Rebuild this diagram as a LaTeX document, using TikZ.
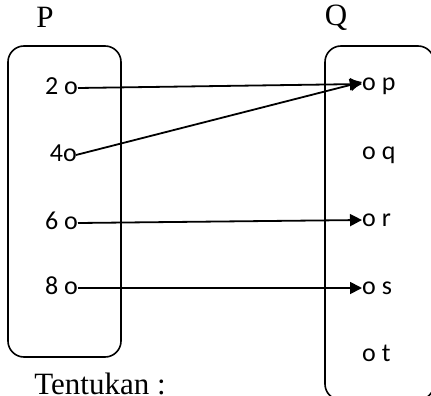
\documentclass[tikz,border=0pt]{standalone}
\usepackage{fontspec}
\setmainfont{Liberation Serif}
\newfontfamily\itemfont{Carlito}
\usetikzlibrary{arrows.meta}
\begin{document}
\begin{tikzpicture}[x=1pt,y=-1pt,
  setbox/.style={draw,line width=1.6pt,rounded corners=16pt},
  item/.style={inner sep=0pt,text height=12pt,text depth=0pt,font=\itemfont\fontsize{26}{30}\selectfont},
  title/.style={inner sep=0pt,font=\fontsize{31}{36}\selectfont},
  maparrow/.style={line width=1.8pt,-{Triangle[length=12pt,width=12pt]}}]
\useasboundingbox (0,0) rectangle (431,396);
\begin{scope}
\clip (0,0) rectangle (431,396);
\draw[setbox] (8,46) rectangle (121,357);
\draw[setbox] (325,46) rectangle (434,400);
\end{scope}
\node[title] (P) at (45,17) {P};
\node[title] (Q) at (336,18) {Q};
\node[title,anchor=base] (tentukan) at (100,394) {Tentukan :};
\node[item,anchor=east] (a2) at (78,88) {2 o};
\node[item,anchor=east] (a4) at (77,155) {4o};
\node[item,anchor=east] (a6) at (78,223) {6 o};
\node[item,anchor=east] (a8) at (78,288) {8 o};
\node[item,anchor=west] (bp) at (362,84) {o p};
\node[item,anchor=west] (bq) at (362,153) {o q};
\node[item,anchor=west] (br) at (362,220) {o r};
\node[item,anchor=west] (bs) at (362,288) {o s};
\node[item,anchor=west] (bt) at (362,355) {o t};
\draw[maparrow] (a2.east) -- (bp.west);
\draw[maparrow] ([xshift=-1pt]a4.east) -- ([yshift=2pt]bp.west);
\draw[maparrow] (a6.east) -- (br.west);
\draw[maparrow] (a8.east) -- (bs.west);
\end{tikzpicture}
\end{document}
